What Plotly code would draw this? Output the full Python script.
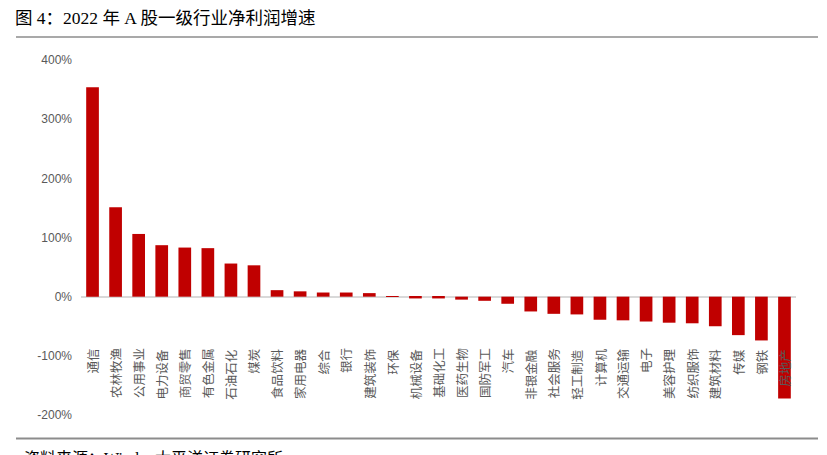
import plotly.graph_objects as go

categories = ["通信", "农林牧渔", "公用事业", "电力设备", "商贸零售", "有色金属", "石油石化", "煤炭",
              "食品饮料", "家用电器", "综合", "银行", "建筑装饰", "环保", "机械设备", "基础化工",
              "医药生物", "国防军工", "汽车", "非银金融", "社会服务", "轻工制造", "计算机", "交通运输",
              "电子", "美容护理", "纺织服饰", "建筑材料", "传媒", "钢铁", "房地产"]
growth = [354, 151, 106, 87, 83, 82, 56, 53,
          11, 9, 7, 7, 6, 1, -3, -3,
          -5, -7, -12, -25, -29, -30, -39, -40,
          -42, -44, -45, -50, -65, -74, -172]
y_ticks = [-200, -100, 0, 100, 200, 300, 400]
y_tick_text = ["-200%", "-100%", "0%", "100%", "200%", "300%", "400%"]

W, H = 827, 455
ml, mr, mt, mb = 81, 31, 60, 39.5

fig = go.Figure()
fig.add_trace(go.Bar(x=categories, y=growth, marker=dict(color="#c00000", line=dict(width=0)),
                     width=0.55))

annotations = []
for c in categories:
    annotations.append(dict(x=c, y=-84, xref="x", yref="y", text=c, textangle=-90,
                            showarrow=False, xanchor="center", yanchor="top",
                            font=dict(family="Noto Sans CJK SC", size=12.5, color="#595959")))

ph = H - mt - mb
def py(pix):
    return (H - mb - pix) / ph

def px_x(pix):
    return (pix - ml) / (W - ml - mr)

annotations.append(dict(x=px_x(13), y=py(18), xref="paper", yref="paper",
                        text="图 4：2022 年 A 股一级行业净利润增速", showarrow=False,
                        xanchor="left", yanchor="middle",
                        font=dict(family="Liberation Serif, Noto Sans CJK SC", size=17.5, color="#000000")))
annotations.append(dict(x=px_x(22), y=py(449), xref="paper", yref="paper",
                        text="资料来源：Wind，太平洋证券研究所", showarrow=False,
                        xanchor="left", yanchor="top",
                        font=dict(family="Liberation Serif, Noto Sans CJK SC", size=16, color="#000000")))

shapes = [
    dict(type="line", xref="paper", yref="paper", x0=px_x(16), x1=px_x(818), y0=py(37), y1=py(37),
         line=dict(color="#8c8c8c", width=1.5)),
    dict(type="line", xref="paper", yref="paper", x0=px_x(16), x1=px_x(818), y0=py(439), y1=py(439),
         line=dict(color="#8c8c8c", width=2)),
]

fig.update_layout(
    width=W, height=H,
    margin=dict(l=ml, r=mr, t=mt, b=mb, pad=0),
    paper_bgcolor="white", plot_bgcolor="white",
    showlegend=False,
    annotations=annotations,
    shapes=shapes,
    xaxis=dict(showticklabels=False, showgrid=False, zeroline=False, showline=False, ticks=""),
    yaxis=dict(range=[-200, 400], tickvals=y_ticks, ticktext=y_tick_text, showgrid=False,
               zeroline=True, zerolinecolor="#d9d9d9", zerolinewidth=1.5, showline=False,
               ticks="", ticklabelstandoff=8,
               tickfont=dict(family="Liberation Sans, Arial", size=12, color="#595959")),
    font=dict(family="Noto Sans CJK SC"),
)

fig.write_html("out.html", config={"displayModeBar": False},
               post_script="document.body.style.margin='0';document.body.style.overflow='hidden';")
